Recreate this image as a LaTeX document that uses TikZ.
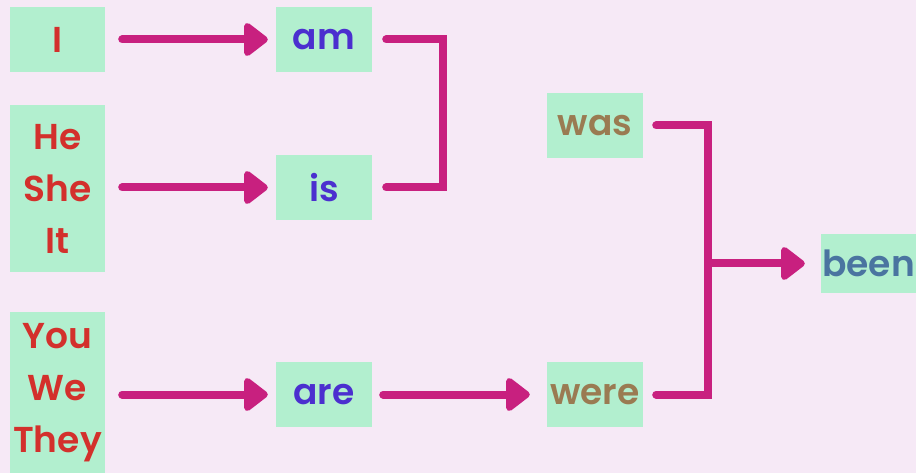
\documentclass[tikz,border=0pt]{standalone}
\usepackage{fontspec}
\setmainfont{Poppins}[BoldFont={* SemiBold}]
\usetikzlibrary{arrows.meta}
\definecolor{paper}{HTML}{F6E9F6}
\definecolor{mint}{HTML}{B2EFCF}
\definecolor{magenta}{HTML}{C8207F}
\definecolor{subject}{HTML}{D3302C}
\definecolor{present}{HTML}{4B2FCF}
\definecolor{past}{HTML}{9A7B52}
\definecolor{participle}{HTML}{4A74A0}
\tikzstyle{word}=[fill=mint, minimum width=96pt, minimum height=65pt, inner sep=0pt, align=center, font=\fontsize{36}{52}\selectfont\bfseries]
\tikzstyle{pronoun}=[word, text=subject, minimum width=95pt]
\tikzstyle{link}=[draw=magenta, line width=8pt, line cap=round]
\tikzstyle{arrow}=[link, -{Triangle[length=26pt, width=38pt, round]}]

\begin{document}
\begin{tikzpicture}[x=1pt, y=-1pt]
      \useasboundingbox (0, 0) rectangle (916, 473);
      \fill[paper] (0, 0) rectangle (916, 473);
      % subjects
      \node[pronoun] (i) at (57.5, 39.5) {I};
      \node[pronoun, minimum height=167pt] (heshe) at (57.5, 188.5) {He\\She\\It};
      \node[pronoun, minimum height=161pt] (youwe) at (57.5, 392.5) {You\\We\\They};
      % present
      \node[word, text=present] (am) at (324, 39.5) {am};
      \node[word, text=present] (is) at (324, 187.5) {is};
      \node[word, text=present] (are) at (324, 394.5) {are};
      % past
      \node[word, text=past] (was) at (595, 125.5) {was};
      \node[word, text=past] (were) at (595, 394.5) {were};
      \node[word, text=participle, minimum width=95pt, minimum height=59pt] (been) at (868.5, 263.5) {been};
      \draw[arrow, shorten <=17pt, shorten >=8pt] (i.east |- am.west) -- (am.west);
      \draw[arrow, shorten <=17pt, shorten >=8pt] (heshe.east |- is.west) -- (is.west);
      \draw[arrow, shorten <=17pt, shorten >=8pt] (youwe.east |- are.west) -- (are.west);
      \draw[arrow, shorten <=11pt, shorten >=17pt] (are.east) -- (were.west);
      \draw[link] ([xshift=14pt]am.east)
        -- ([xshift=71pt]am.east)
        -- ([xshift=71pt]is.east)
        -- ([xshift=14pt]is.east);
      \draw[link] ([xshift=13pt]was.east)
        -- ([xshift=65pt]was.east)
        -- ([xshift=65pt]were.east)
        -- ([xshift=13pt]were.east);
      \coordinate (join) at ([xshift=65pt]was.east |- been.west);
      \draw[arrow, shorten >=16pt] (join) -- (been.west);
    \end{tikzpicture}
\end{document}
